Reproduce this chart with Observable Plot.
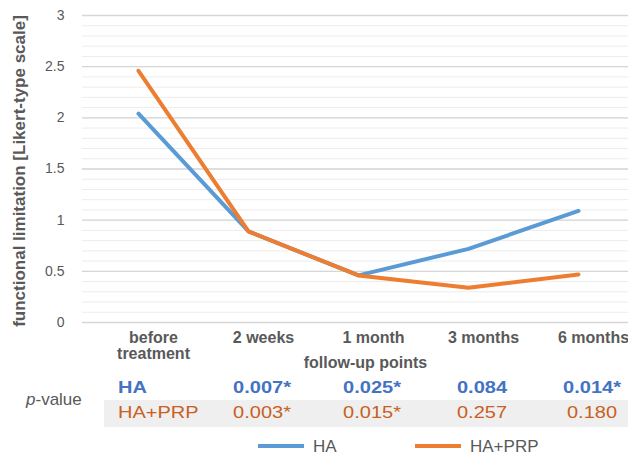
<!DOCTYPE html>
<html><head><meta charset="utf-8">
<script src="https://cdn.jsdelivr.net/npm/d3@7"></script>
<script src="https://cdn.jsdelivr.net/npm/@observablehq/plot@0.6"></script>
<style>
body{margin:0;background:#fff;font-family:"Liberation Sans",Arial,sans-serif;}
#wrap{width:628px;height:454px;position:relative;overflow:hidden;background:#fff}
#wrap svg{position:absolute;left:0;top:0}
.a{position:absolute;white-space:nowrap;line-height:1}
</style></head><body><div id="wrap"></div>
<script>
const timepoints = ["before\ntreatment", "2 weeks", "1 month", "3 months", "6 months"];
const haValues = [2.04, 0.89, 0.46, 0.72, 1.09];
const haPrpValues = [2.46, 0.89, 0.46, 0.34, 0.47];
const haPValues = [null, "0.007*", "0.025*", "0.084", "0.014*"];
const haPrpPValues = [null, "0.003*", "0.015*", "0.257", "0.180"];
const seriesNames = ["HA", "HA+PRP"];
const seriesColors = ["#5B9BD5", "#ED7D31"];
const pTextColors = ["#4472C4", "#C8601E"];
const yTicks = [0, 0.5, 1, 1.5, 2, 2.5, 3];
const yMinorTicks = d3.range(0, 31).map(i => i / 10);
const yTitle = "functional limitation [Likert-type scale]";
const xTitle = "follow-up points";

const rows = [];
timepoints.forEach((t, i) => {
  rows.push({t, v: haValues[i], s: seriesNames[0]});
  rows.push({t, v: haPrpValues[i], s: seriesNames[1]});
});

const gray = "#595959";
const chart = Plot.plot({
  width: 628, height: 376,
  marginLeft: 82, marginRight: 0, marginTop: 15, marginBottom: 54,
  style: {fontFamily: "Liberation Sans, Arial, sans-serif", color: gray, background: "transparent", overflow: "visible"},
  x: {type: "point", domain: timepoints, range: [82, 634], padding: 0.5, label: null},
  y: {domain: [0, 3], label: null},
  color: {domain: seriesNames, range: seriesColors},
  marks: [
    Plot.ruleY(yMinorTicks, {stroke: "#ececec", strokeWidth: 1}),
    Plot.ruleY(yTicks, {stroke: "#d6d6d6", strokeWidth: 1.3}),
    Plot.axisY({ticks: yTicks, tickFormat: d => String(d), tickSize: 0, tickPadding: 18, fontSize: 14, fill: gray, label: null}),
    Plot.axisX({tickSize: 0, tickPadding: 9, dx: 15, fontSize: 16, fontWeight: "bold", fill: gray, lineAnchor: "top", label: null}),
    Plot.lineY(rows, {x: "t", y: "v", stroke: "s", z: "s", strokeWidth: 4}),
    Plot.text([xTitle], {frameAnchor: "bottom", lineAnchor: "bottom", dy: 45, dx: 10, fontSize: 16, fontWeight: "bold", fill: gray}),
    Plot.text([yTitle], {frameAnchor: "left", textAnchor: "middle", rotate: -90, dx: -63, dy: 2, fontSize: 17, fontWeight: "bold", fill: gray})
  ]
});
const wrap = document.getElementById("wrap");
wrap.appendChild(chart);

const xs = chart.scale("x");
function add(html, style) {
  const d = document.createElement("div");
  d.className = "a";
  d.innerHTML = html;
  Object.assign(d.style, style);
  wrap.appendChild(d);
  return d;
}
// gray band behind HA+PRP row
add("", {left: "104px", top: "400px", width: "524px", height: "27px", background: "#efefef"});
add("<i>p</i>-value", {left: "26px", top: "399px", fontSize: "17px", color: gray, transform: "translateY(-50%)"});
const rowY = [388, 413];
const rowWeight = ["bold", "normal"];
[haPValues, haPrpPValues].forEach((vals, r) => {
  add(seriesNames[r], {left: "118px", top: rowY[r] + "px", fontSize: "16px", fontWeight: rowWeight[r],
    color: pTextColors[r], transform: "translateY(-50%) scaleX(1.25)", transformOrigin: "left center"});
  vals.forEach((v, i) => {
    if (v == null) return;
    const cx = xs.apply(timepoints[i]) + 14;
    add(v, {left: cx + "px", top: rowY[r] + "px", fontSize: "16px", fontWeight: rowWeight[r],
      color: pTextColors[r], transform: "translate(-50%,-50%) scaleX(1.25)"});
  });
});
// legend
const legendX = [258, 415];
seriesNames.forEach((s, i) => {
  add("", {left: legendX[i] + "px", top: "444px", width: "46px", height: "4px", background: seriesColors[i]});
  add(s, {left: (legendX[i] + 55) + "px", top: "446px", fontSize: "17px", color: gray, transform: "translateY(-50%)"});
});
</script></body></html>
